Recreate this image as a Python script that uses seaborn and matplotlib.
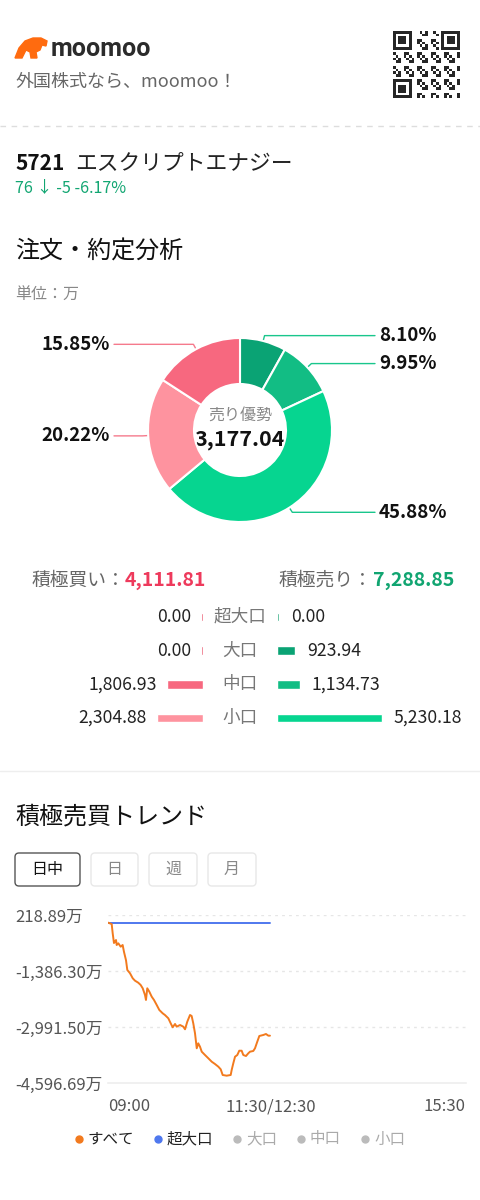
import numpy as np
import pandas as pd
import matplotlib
matplotlib.use("Agg")
import matplotlib.pyplot as plt
from matplotlib.patches import FancyBboxPatch, Polygon
import seaborn as sns

sns.set_theme(style="white")
plt.rcParams["font.family"] = ["Noto Sans CJK JP", "DejaVu Sans"]

# ---------------- data ----------------
stock_code = "5721"
stock_name = "エスクリプトエナジー"
quote_text = "76 ↓ -5 -6.17%"

pie_values = [8.10, 9.95, 45.88, 20.22, 15.85]
pie_labels = ["8.10%", "9.95%", "45.88%", "20.22%", "15.85%"]
pie_colors = ["#0AA374", "#12BD84", "#06D590", "#FE939F", "#F7687F"]
center_title = "売り優勢"
center_value = "3,177.04"

categories = ["超大口", "大口", "中口", "小口"]
buy_values = [0.00, 0.00, 1806.93, 2304.88]
sell_values = [0.00, 923.94, 1134.73, 5230.18]
buy_colors = ["#E84A62", "#E84A62", "#F7687F", "#FE939F"]
sell_colors = ["#0E9F6E", "#0AA374", "#12BD84", "#06D590"]
buy_total = "4,111.81"
sell_total = "7,288.85"

trend_minutes = [0, 3.4, 4.3, 5.5, 6.5, 7.4, 8.0, 9.5, 11.7, 13.5, 14.7, 16.6, 17.8,
                 20.3, 22.8, 24.9, 27.9, 30.1, 32.0, 34.1, 35.0, 36.2, 38.1, 40.3,
                 42.4, 44.9, 47.3, 50.4, 52.5, 55.6, 57.8, 59.6, 61.8, 63.3, 66.4,
                 69.4, 71.0, 73.1, 75.6, 77.1, 78.6, 80.2, 81.8, 83.2, 84.8, 86.4,
                 89.4, 92.5, 95.6, 98.6, 101.7, 103.9, 105.7, 109.4, 113.1, 114.0,
                 115.5, 117.1, 119.2, 121.0, 123.2, 124.7, 127.2, 129.3, 130.9,
                 133.9, 135.5, 137.6, 139.5, 143.2, 145.6, 147.8, 149.3]
trend_all = [0, -40, -299, -584, -546, -498, -641, -592, -690, -641, -833, -1079, -1357,
             -1452, -1596, -1664, -1722, -1787, -1882, -2074, -2217, -1882, -1979, -2123,
             -2217, -2361, -2504, -2599, -2648, -2742, -2886, -2999, -2905, -2982, -2934,
             -2982, -3057, -2838, -2647, -2675, -2886, -3172, -3602, -3459, -3556, -3699,
             -3794, -3889, -3986, -4052, -4129, -4204, -4367, -4387, -4367, -4224,
             -4032, -3843, -3794, -3671, -3671, -3794, -3823, -3746, -3699,
             -3679, -3602, -3413, -3249, -3220, -3192, -3240, -3240]
super_minutes = [0, 149.3]
super_values = [0, 0]

y_ticks = [218.89, -1386.30, -2991.50, -4596.69]
y_tick_labels = ["218.89万", "-1,386.30万", "-2,991.50万", "-4,596.69万"]
x_ticks = [0, 150, 330]
x_tick_labels = ["09:00", "11:30/12:30", "15:30"]

legend_names = ["すべて", "超大口", "大口", "中口", "小口"]
legend_colors = ["#F27A1E", "#4F78EE", "#BBBBBB", "#BBBBBB", "#BBBBBB"]
legend_text_colors = ["#222222", "#222222", "#AAAAAA", "#AAAAAA", "#AAAAAA"]

# ---------------- figure ----------------
W, H = 481, 1200
fig = plt.figure(figsize=(W / 100, H / 100), dpi=100)
fig.patch.set_facecolor("white")


def fbox(x0, y0, x1, y1):
    return [x0 / W, 1 - y1 / H, (x1 - x0) / W, (y1 - y0) / H]


bg = fig.add_axes([0, 0, 1, 1])
bg.set_xlim(0, W)
bg.set_ylim(H, 0)
bg.axis("off")

# header: logo
logo = Polygon([(15, 58), (19, 48), (25, 41), (33, 38), (41, 38), (47, 41), (46, 46),
                (42, 45), (40, 50), (36, 52), (37, 58), (31, 58), (30, 52), (26, 50), (22, 58)],
               closed=True, color="#FF6B0F")
bg.add_patch(logo)
bg.text(51, 49, "moomoo", fontsize=18, fontweight="bold", family=["Roboto", "DejaVu Sans"],
        color="#2B2B2B", va="center", ha="left")
bg.text(15, 82, "外国株式なら、moomoo！", fontsize=13, color="#666666", va="center", ha="left")

# QR-like decoration
n = 25
qr = np.zeros((n, n))
ii, jj = np.meshgrid(np.arange(n), np.arange(n), indexing="ij")
qr[((ii * 7 + jj * 13 + ii * jj) % 5) < 2] = 1
for (r0, c0) in [(0, 0), (0, n - 7), (n - 7, 0)]:
    qr[max(r0 - 1, 0):r0 + 8, max(c0 - 1, 0):c0 + 8] = 0
    qr[r0:r0 + 7, c0:c0 + 7] = 1
    qr[r0 + 1:r0 + 6, c0 + 1:c0 + 6] = 0
    qr[r0 + 2:r0 + 5, c0 + 2:c0 + 5] = 1
bg.imshow(qr, cmap="Greys", extent=(393, 460, 98, 31), interpolation="nearest", vmin=0, vmax=1.15)
bg.set_xlim(0, W)
bg.set_ylim(H, 0)
bg.set_aspect("auto")

bg.plot([0, W], [126, 126], ls=(0, (4, 4)), color="#DDDDDD", lw=1)

# stock header
bg.text(15, 163, stock_code, fontsize=15, fontweight="bold", color="#111111", va="center")
bg.text(75, 163, stock_name, fontsize=15.7, color="#222222", va="center")
bg.text(15, 188, quote_text, fontsize=11.6, color="#12A672", va="center")

bg.text(15, 252, "注文・約定分析", fontsize=17.3, color="#111111", va="center")
bg.text(15, 295, "単位：万", fontsize=11.5, color="#888888", va="center")

# ---------------- donut ----------------
cx, cy, R = 240, 430, 92
ax_d = fig.add_axes(fbox(cx - R, cy - R, cx + R, cy + R))
ax_d.pie(pie_values, colors=pie_colors, startangle=90, counterclock=False, radius=1,
         wedgeprops=dict(width=0.50, edgecolor="white", linewidth=1.5))
ax_d.set_xlim(-1, 1)
ax_d.set_ylim(-1, 1)
ax_d.patch.set_alpha(0)

cum = np.cumsum([0] + pie_values[:-1])
for v, c0, lab, col in zip(pie_values, cum, pie_labels, pie_colors):
    th = np.deg2rad((c0 + v / 2) / 100 * 360)
    x1, y1 = cx + R * np.sin(th), cy - R * np.cos(th)
    x2, y2 = cx + 1.06 * R * np.sin(th), cy - 1.06 * R * np.cos(th)
    right = np.sin(th) > 0
    x3 = 375 if right else 114
    lc = "#19C68C" if right else "#F57A8C"
    bg.plot([x1, x2, x3], [y1, y2, y2], color=lc, lw=1)
    bg.text(x3 + 4 if right else x3 - 4, y2, lab, fontsize=13.5, fontweight="bold",
            color="#111111", va="center", ha="left" if right else "right")

bg.text(cx, 415, center_title, fontsize=11.5, color="#888888", ha="center", va="center")
bg.text(cx, 440, center_value, fontsize=15.5, fontweight="bold", color="#111111",
        ha="center", va="center")

# ---------------- totals ----------------
bg.text(125, 580, "積極買い：", fontsize=13.5, color="#666666", ha="right", va="center")
bg.text(125, 580, buy_total, fontsize=14, fontweight="bold", color="#EE3A5C", ha="left", va="center")
bg.text(372, 580, "積極売り：", fontsize=13.5, color="#666666", ha="right", va="center")
bg.text(373, 580, sell_total, fontsize=14, fontweight="bold", color="#11A571", ha="left", va="center")

# ---------------- bar table ----------------
row_top, row_bot = 600, 735
XMAX = 10000
units_per_px = XMAX / 200
min_vis = 2 * units_per_px
df = pd.DataFrame({"cat": categories,
                   "buy": np.maximum(buy_values, min_vis),
                   "sell": np.maximum(sell_values, min_vis)})

ax_l = fig.add_axes(fbox(3, row_top, 203, row_bot))
sns.barplot(data=df, x="buy", y="cat", hue="cat", palette=buy_colors, orient="h",
            dodge=False, width=0.25, legend=False, saturation=1, ax=ax_l)
ax_l.set_xlim(XMAX, 0)
ax_l.set_ylim(3.5, -0.5)
ax_l.axis("off")
for i, v in enumerate(buy_values):
    ax_l.text(df["buy"][i] + 10 * units_per_px, i, f"{v:,.2f}", fontsize=12.7,
              color="#222222", ha="right", va="center")

ax_r = fig.add_axes(fbox(277, row_top, 477, row_bot))
sns.barplot(data=df, x="sell", y="cat", hue="cat", palette=sell_colors, orient="h",
            dodge=False, width=0.25, legend=False, saturation=1, ax=ax_r)
ax_r.set_xlim(0, XMAX)
ax_r.set_ylim(3.5, -0.5)
ax_r.axis("off")
for i, v in enumerate(sell_values):
    ax_r.text(df["sell"][i] + 12 * units_per_px, i, f"{v:,.2f}", fontsize=12.7,
              color="#222222", ha="left", va="center")

row_h = (row_bot - row_top) / 4
for i, c in enumerate(categories):
    bg.text(240, row_top + row_h * (i + 0.5), c, fontsize=12.7, color="#777777",
            ha="center", va="center")

bg.plot([0, W], [771, 771], color="#EEEEEE", lw=1)

# ---------------- trend section ----------------
bg.text(15, 817, "積極売買トレンド", fontsize=17.3, color="#111111", va="center")
buttons = [("日中", 15, 80, True), ("日", 91, 138, False), ("週", 149, 197, False), ("月", 208, 256, False)]
for lab, x0, x1, active in buttons:
    p = FancyBboxPatch((x0 + 4, 853 + 4), x1 - x0 - 8, 33 - 8,
                       boxstyle="round,pad=4", lw=1,
                       edgecolor="#555555" if active else "#E8E8E8", facecolor="white")
    bg.add_patch(p)
    bg.text((x0 + x1) / 2, 869.5, lab, fontsize=11.5,
            color="#111111" if active else "#888888", ha="center", va="center")

ax_c = fig.add_axes(fbox(108, 915, 466, 1083))
sns.lineplot(x=super_minutes, y=super_values, color="#4F78EE", lw=1.4, ax=ax_c)
sns.lineplot(x=trend_minutes, y=trend_all, color="#F27A1E", lw=1.4, ax=ax_c)
ax_c.set_xlim(0, 330)
ax_c.set_ylim(y_ticks[-1], y_ticks[0])
ax_c.patch.set_alpha(0)
for s in ["top", "left", "right"]:
    ax_c.spines[s].set_visible(False)
ax_c.spines["bottom"].set_color("#EEEEEE")
ax_c.spines["bottom"].set_linewidth(1.2)
for yv in y_ticks[:-1]:
    ax_c.axhline(yv, color="#E6E6E6", lw=1, ls=(0, (2, 3)), zorder=0)
ax_c.set_yticks(y_ticks)
ax_c.set_yticklabels(y_tick_labels, fontsize=12, color="#555555")
for t in ax_c.get_yticklabels():
    t.set_ha("left")
ax_c.tick_params(axis="y", length=0, pad=(108 - 15) * 0.72)
ax_c.set_xticks(x_ticks)
ax_c.set_xticklabels(x_tick_labels, fontsize=12, color="#555555")
xl = ax_c.get_xticklabels()
xl[0].set_ha("left")
xl[2].set_ha("right")
ax_c.tick_params(axis="x", length=0, pad=11)
ax_c.set_xlabel("")
ax_c.set_ylabel("")

# legend
leg_x = [79, 158, 237, 301, 365]
for x, name, dc, tc in zip(leg_x, legend_names, legend_colors, legend_text_colors):
    bg.plot([x], [1139], marker="o", ms=5, color=dc, mec=dc)
    bg.text(x + 9, 1139, name, fontsize=11.2, color=tc, ha="left", va="center")

fig.savefig("out.png", dpi=100, facecolor="white")
